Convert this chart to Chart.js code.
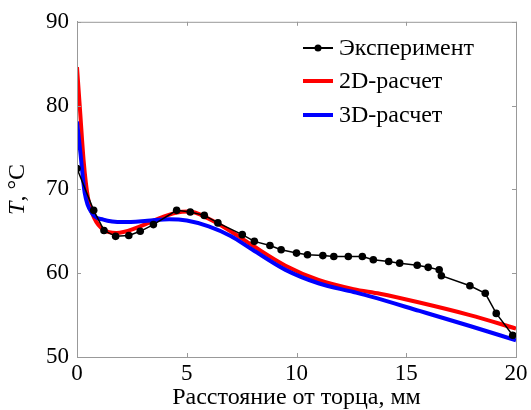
<!DOCTYPE html>
<html lang="ru">
<head>
<meta charset="UTF-8" />
<title>T vs distance</title>
<script src="https://cdn.jsdelivr.net/npm/chart.js@4.4.0/dist/chart.umd.min.js"></script>
<style>
  html, body { margin: 0; padding: 0; background: #fff; }
  #wrap { position: relative; width: 531px; height: 410px; }
</style>
</head>
<body>
<div id="wrap"><canvas id="chart"></canvas></div>
<script>
// experiment (black dots)
const expX = [0, 0.76, 1.23, 1.76, 2.36, 2.88, 3.48, 4.54, 5.16, 5.8, 6.42, 7.53, 8.08, 8.79, 9.3, 10.0, 10.5, 11.2, 11.7, 12.36, 13.0, 13.5, 14.2, 14.7, 15.5, 16.0, 16.5, 16.6, 17.9, 18.6, 19.1, 19.85]
const expT = [72.5, 67.5, 65.1, 64.4, 64.5, 65.0, 65.8, 67.5, 67.3, 66.9, 66.0, 64.6, 63.8, 63.3, 62.8, 62.4, 62.2, 62.1, 62.0, 62.0, 62.0, 61.6, 61.4, 61.2, 60.95, 60.7, 60.4, 59.7, 58.5, 57.6, 55.2, 52.6]

// 2D calculation (red)
const calc2dX = [0, 0.15, 0.3, 0.5, 0.8, 1.2, 1.8, 2.7, 3.6, 4.5, 5.1, 6.0, 7.0, 8.0, 9.5, 11.0, 12.6, 13.8, 15.6, 17.9, 20]
const calc2dT = [84.6, 79, 73.5, 69, 66.5, 65.2, 64.8, 65.4, 66.4, 67.2, 67.35, 66.5, 65.0, 63.3, 60.9, 59.2, 58.1, 57.55, 56.5, 55.0, 53.4]

// 3D calculation (blue)
const calc3dX = [0, 0.15, 0.35, 0.7, 1.2, 2.1, 3.2, 4.2, 5.0, 6.0, 7.0, 8.0, 9.5, 11.0, 12.6, 13.4, 15.6, 17.9, 20]
const calc3dT = [78.1, 74.5, 69.6, 67.1, 66.4, 66.1, 66.25, 66.45, 66.3, 65.6, 64.45, 62.8, 60.4, 58.8, 57.75, 57.2, 55.5, 53.7, 52.0]

const xTicks = [0, 5, 10, 15, 20]
const yTicks = [50, 60, 70, 80, 90]
const seriesNames = ['Эксперимент', '2D-расчет', '3D-расчет']

const FONT = 'Liberation Serif, Times New Roman, serif'

function toPoints(xs, ys) {
	return xs.map((x, i) => ({ x: x, y: ys[i] }))
}

// inward tick marks, top/right frame, y title and legend
const framePlugin = {
	id: 'frame',
	afterDraw(chart) {
		const { ctx, chartArea: a, scales } = chart
		ctx.save()
		ctx.strokeStyle = '#999'
		ctx.lineWidth = 1
		ctx.strokeRect(a.left + 0.5, a.top + 0.5, a.right - a.left, a.bottom - a.top)
		ctx.beginPath()
		xTicks.forEach(v => {
			const px = Math.round(scales.x.getPixelForValue(v)) + 0.5
			ctx.moveTo(px, a.bottom)
			ctx.lineTo(px, a.bottom - 4)
			ctx.moveTo(px, a.top)
			ctx.lineTo(px, a.top + 4)
		})
		yTicks.forEach(v => {
			const py = Math.round(scales.y.getPixelForValue(v)) + 0.5
			ctx.moveTo(a.left, py)
			ctx.lineTo(a.left + 4, py)
			ctx.moveTo(a.right, py)
			ctx.lineTo(a.right - 4, py)
		})
		ctx.stroke()

		// y axis title: italic T, then ", °C"
		ctx.translate(18, (a.top + a.bottom) / 2)
		ctx.rotate(-Math.PI / 2)
		ctx.fillStyle = '#000'
		ctx.textBaseline = 'middle'
		ctx.font = 'italic 24px ' + FONT
		const w1 = ctx.measureText('T').width
		ctx.font = '24px ' + FONT
		const w2 = ctx.measureText(', °C').width
		let sx = -(w1 + w2) / 2
		ctx.font = 'italic 24px ' + FONT
		ctx.fillText('T', sx, 0)
		ctx.font = '24px ' + FONT
		ctx.fillText(', °C', sx + w1, 0)
		ctx.restore()

		// legend inside plot
		ctx.save()
		const lx = 303, tx = 339
		const rows = [48, 81, 115]
		const colors = ['#000', '#ff0000', '#0000ff']
		const widths = [2, 4, 4]
		rows.forEach((ry, i) => {
			ctx.strokeStyle = colors[i]
			ctx.lineWidth = widths[i]
			ctx.beginPath()
			ctx.moveTo(lx, ry)
			ctx.lineTo(lx + 30, ry)
			ctx.stroke()
			if (i === 0) {
				ctx.fillStyle = '#000'
				ctx.beginPath()
				ctx.arc(lx + 15, ry, 3.5, 0, Math.PI * 2)
				ctx.fill()
			}
			ctx.fillStyle = '#000'
			ctx.font = '24px ' + FONT
			ctx.textBaseline = 'middle'
			ctx.fillText(seriesNames[i], tx, ry + 1)
		})
		ctx.restore()
	}
}

const ctx = document.getElementById('chart').getContext('2d')
new Chart(ctx, {
	type: 'line',
	data: {
		datasets: [
			{
				label: seriesNames[0],
				data: toPoints(expX, expT),
				borderColor: '#000',
				backgroundColor: '#000',
				borderWidth: 1.5,
				pointRadius: 3.8,
				pointBackgroundColor: '#000',
				pointBorderWidth: 0,
				tension: 0,
				order: 0
			},
			{
				label: seriesNames[1],
				data: toPoints(calc2dX, calc2dT),
				borderColor: '#ff0000',
				borderWidth: 4,
				pointRadius: 0,
				cubicInterpolationMode: 'monotone',
				order: 2
			},
			{
				label: seriesNames[2],
				data: toPoints(calc3dX, calc3dT),
				borderColor: '#0000ff',
				borderWidth: 4,
				pointRadius: 0,
				cubicInterpolationMode: 'monotone',
				order: 1
			}
		]
	},
	options: {
		responsive: true,
		maintainAspectRatio: false,
		animation: false,
		layout: { padding: { left: 0, right: 15, top: 20, bottom: 0 } },
		plugins: {
			legend: { display: false },
			tooltip: { enabled: false }
		},
		scales: {
			x: {
				type: 'linear',
				min: 0,
				max: 20,
				afterFit: s => { s.height = 53 },
				afterBuildTicks: s => { s.ticks = xTicks.map(v => ({ value: v })) },
				grid: { display: false, drawTicks: false },
				border: { color: '#999', width: 1 },
				ticks: { color: '#000', padding: 3, font: { family: FONT, size: 23 } },
				title: {
					display: true,
					text: 'Расстояние от торца, мм',
					color: '#000',
					padding: { top: 0, bottom: -2 },
					font: { family: FONT, size: 24 }
				}
			},
			y: {
				type: 'linear',
				min: 50,
				max: 90,
				afterFit: s => { s.width = 77 },
				afterBuildTicks: s => { s.ticks = yTicks.map(v => ({ value: v })) },
				grid: { display: false, drawTicks: false },
				border: { color: '#999', width: 1 },
				ticks: { color: '#000', padding: 8, font: { family: FONT, size: 23 } }
			}
		}
	},
	plugins: [framePlugin]
})
</script>
</body>
</html>
